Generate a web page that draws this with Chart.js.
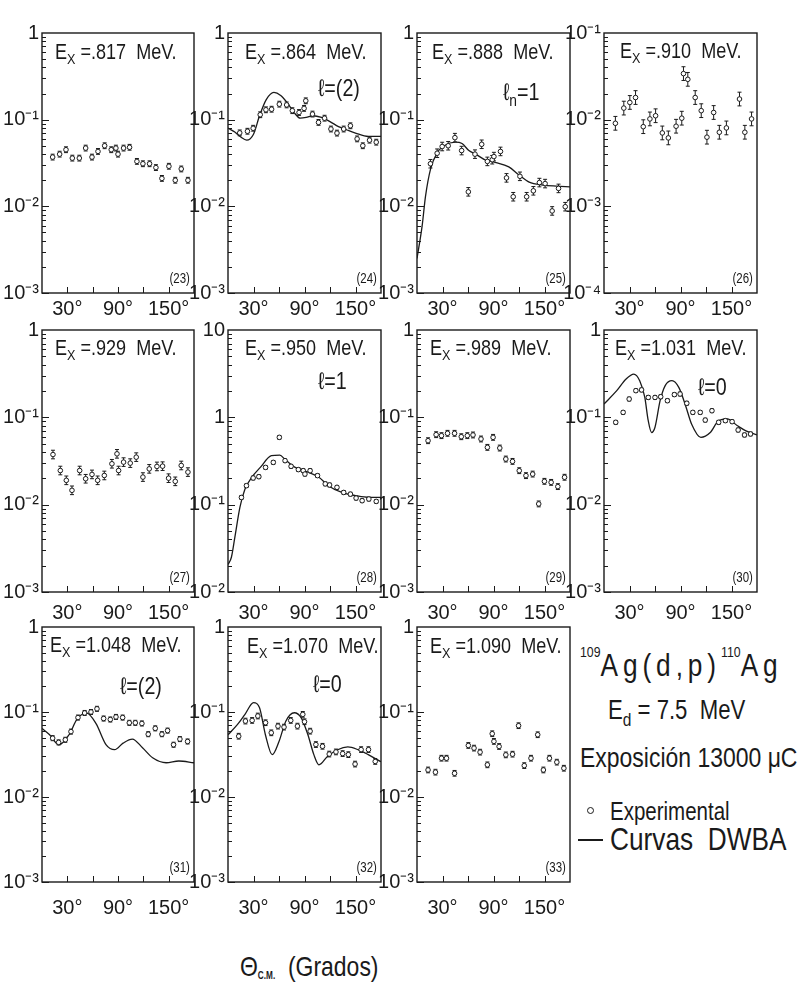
<!DOCTYPE html>
<html>
<head>
<meta charset="utf-8">
<title>109Ag(d,p)110Ag</title>
<script src="https://cdn.jsdelivr.net/npm/chart.js@4.4.1/dist/chart.umd.min.js"></script>
<style>
  body { margin: 0; background: #fff; }
  #sheet { position: relative; width: 797px; height: 998px; overflow: hidden; color: #1a1a1a;
           font-family: "Liberation Sans", Arial, sans-serif; }
  #sheet canvas { position: absolute; }
  .txt { position: absolute; white-space: pre; line-height: 1; transform: scaleX(0.82); transform-origin: left top; }
  .txt sub { font-size: 0.7em; vertical-align: -0.35em; line-height: 0; }
  .iso { font-size: 15px; position: relative; top: -19px; letter-spacing: 0; }
</style>
</head>
<body>
<div id="sheet">
  <div class="txt" style="left:580px;top:649px;font-size:32px;letter-spacing:6px"><span class="iso">109</span>Ag(d,p)<span class="iso">110</span>Ag</div>
  <div class="txt" style="left:608px;top:697px;font-size:27px">E<sub>d</sub> = 7.5  MeV</div>
  <div class="txt" style="left:580px;top:744px;font-size:28px">Exposición 13000 μC</div>
  <div style="position:absolute;left:587px;top:807px;width:5px;height:5px;border:1.5px solid #1a1a1a;border-radius:50%"></div>
  <div class="txt" style="left:610px;top:799px;font-size:25px">Experimental</div>
  <div style="position:absolute;left:578px;top:839px;width:25px;height:1.5px;background:#1a1a1a"></div>
  <div class="txt" style="left:610px;top:823px;font-size:32px">Curvas  DWBA</div>
  <div class="txt" style="left:240px;top:953px;font-size:28px">Θ<span style="font-size:10px;font-weight:bold;vertical-align:-3px">C.M.</span>  (Grados)</div>
</div>
<script>
'use strict';

// measured points, angle in degrees (c.m.) and cross section
var ang23 = [12.6, 20.9, 28.4, 35.9, 44.2, 51.7, 59.2, 66.3, 74.2, 82, 87.5, 90, 96.6, 103.7, 112.4, 119.5, 127.4, 134.9, 142, 150.3, 157.8, 164.9, 172.8];
var sig23 = [0.037, 0.040, 0.045, 0.036, 0.036, 0.047, 0.037, 0.043, 0.050, 0.045, 0.047, 0.040, 0.047, 0.048, 0.033, 0.031, 0.031, 0.028, 0.021, 0.029, 0.020, 0.027, 0.020];

var ang24 = [13.8, 22.9, 29.6, 37.9, 44.6, 51.3, 60.4, 69, 75.7, 83.6, 89.5, 91.5, 99.4, 106.5, 113.6, 121.1, 128.2, 136.1, 144, 151.9, 158.6, 166.5, 174.4];
var sig24 = [0.0704, 0.0735, 0.0796, 0.114, 0.130, 0.132, 0.151, 0.148, 0.127, 0.121, 0.135, 0.165, 0.116, 0.093, 0.104, 0.078, 0.070, 0.078, 0.085, 0.060, 0.050, 0.058, 0.055];

var ang25 = [15.8, 23.7, 29.6, 36.7, 44.6, 52.5, 60.4, 68.2, 76.1, 82.8, 88.5, 90.5, 98.2, 105.3, 113.2, 121.1, 129, 136.9, 144, 150.7, 159, 166.5, 174.4];
var sig25 = [0.031, 0.041, 0.049, 0.050, 0.062, 0.044, 0.0147, 0.040, 0.052, 0.033, 0.0345, 0.0375, 0.043, 0.0213, 0.0129, 0.0222, 0.0129, 0.0151, 0.0188, 0.0183, 0.00885, 0.0161, 0.0099];

var ang26 = [13.4, 23.3, 30.4, 37.1, 46.2, 54, 60.7, 68.6, 75.7, 84.8, 91.5, 93.5, 98.6, 107.3, 114.4, 121.1, 129, 135.7, 144, 159.4, 165.7, 173.6];
var sig26 = [0.00908, 0.0136, 0.0158, 0.018, 0.0083, 0.0102, 0.0111, 0.00703, 0.00616, 0.0084, 0.0104, 0.034, 0.0292, 0.018, 0.0127, 0.00628, 0.0121, 0.00716, 0.00803, 0.0173, 0.00716, 0.0102];

var ang27 = [13, 21.7, 28.8, 35.5, 44.6, 51.7, 59.2, 65.9, 73.8, 82.8, 88.8, 90.7, 96.6, 104.5, 111.6, 119.5, 127, 136.1, 142.8, 149.9, 157.8, 164.9, 172.8];
var sig27 = [0.0375, 0.0246, 0.019, 0.0146, 0.0246, 0.0198, 0.0222, 0.019, 0.0216, 0.0294, 0.0382, 0.0246, 0.0307, 0.0299, 0.035, 0.0207, 0.0257, 0.0274, 0.0276, 0.0201, 0.0185, 0.0281, 0.0236];

var ang28 = [15.8, 21.7, 29.6, 36.3, 44.2, 53.3, 60.4, 67.1, 74.2, 82.8, 88.5, 90.5, 96.6, 105.3, 114.4, 119.5, 128.2, 136.1, 144, 150.7, 157.8, 165.7, 174.4];
var sig28 = [0.121, 0.165, 0.202, 0.209, 0.267, 0.305, 0.59, 0.319, 0.275, 0.252, 0.245, 0.224, 0.245, 0.215, 0.173, 0.168, 0.158, 0.138, 0.132, 0.119, 0.111, 0.116, 0.109];

var ang29 = [13, 22.5, 28.8, 35.9, 44.2, 52.1, 59.2, 65.9, 75.3, 82.8, 89.5, 97.4, 104.5, 112.4, 120.3, 128.2, 136.1, 143.2, 149.9, 157.8, 165.7, 173.6];
var sig29 = [0.054, 0.0633, 0.0617, 0.0656, 0.0656, 0.060, 0.0617, 0.0628, 0.0565, 0.0453, 0.059, 0.0445, 0.0333, 0.0313, 0.0245, 0.0215, 0.0224, 0.0102, 0.0185, 0.018, 0.0161, 0.0206];

var ang30 = [13.8, 22.5, 29.6, 37.5, 44.2, 52.1, 60, 66.7, 74.6, 82.8, 89.5, 97.4, 104.5, 113.2, 119.1, 127, 134.9, 142.8, 150.7, 157.8, 165.3, 172.4];
var sig30 = [0.0877, 0.114, 0.162, 0.202, 0.206, 0.169, 0.169, 0.172, 0.155, 0.182, 0.185, 0.145, 0.114, 0.114, 0.093, 0.119, 0.0877, 0.0916, 0.0892, 0.0716, 0.0628, 0.0645];

var ang31 = [12.6, 19.7, 27.6, 34.3, 42.6, 50.5, 58, 65.1, 73, 80.9, 87.6, 95.5, 103.4, 110.5, 118.3, 125.8, 134.1, 142, 148.7, 155.8, 163.3, 172.4];
var sig31 = [0.0492, 0.0439, 0.0471, 0.0588, 0.086, 0.0974, 0.100, 0.109, 0.0838, 0.0816, 0.0875, 0.086, 0.0746, 0.0746, 0.0733, 0.0548, 0.0642, 0.0548, 0.0604, 0.0412, 0.048, 0.045];

var ang32 = [12.6, 20.5, 28.4, 35.1, 44.2, 50.9, 58.8, 65.9, 73.8, 81.7, 88, 90, 96.6, 103.4, 111.2, 119.1, 127, 134.9, 141.6, 149.5, 156.6, 165.3, 173.2];
var sig32 = [0.0519, 0.0782, 0.0796, 0.0897, 0.0748, 0.0569, 0.0682, 0.0664, 0.0796, 0.0682, 0.0938, 0.0768, 0.0595, 0.0414, 0.0395, 0.032, 0.0339, 0.0324, 0.0315, 0.0244, 0.0361, 0.0361, 0.0262];

var ang33 = [13, 21.7, 28.8, 34.7, 44.2, 60.4, 67.1, 74.2, 82.8, 88.5, 90.5, 96.6, 104.5, 112.4, 119.5, 126.2, 134.1, 142, 148.7, 155.8, 164.5, 172.8];
var sig33 = [0.0208, 0.0196, 0.0286, 0.0286, 0.019, 0.0404, 0.0376, 0.0337, 0.0239, 0.0555, 0.0451, 0.0393, 0.0313, 0.0319, 0.069, 0.0234, 0.0286, 0.054, 0.0208, 0.0286, 0.0257, 0.0218];

// DWBA curves
var dwAng24 = [0, 8, 15, 22, 30, 37, 45, 54, 62, 70, 78, 85, 92, 100, 110, 120, 130, 140, 150, 165, 180];
var dwSig24 = [0.080, 0.072, 0.063, 0.058, 0.068, 0.11, 0.17, 0.206, 0.19, 0.155, 0.12, 0.104, 0.106, 0.111, 0.106, 0.095, 0.083, 0.076, 0.070, 0.064, 0.064];

var dwAng25 = [0, 6, 10, 16, 24, 32, 45, 53, 61, 69, 81, 93, 108, 120, 132, 148, 164, 180];
var dwSig25 = [0.0025, 0.0059, 0.013, 0.027, 0.042, 0.050, 0.055, 0.053, 0.044, 0.040, 0.034, 0.032, 0.0285, 0.023, 0.019, 0.0176, 0.0171, 0.0168];

var dwAng28 = [0, 4, 8, 14, 20, 28, 38, 51, 61, 67, 79, 95, 107, 118, 134, 150, 166, 180];
var dwSig28 = [0.0206, 0.025, 0.042, 0.093, 0.151, 0.206, 0.267, 0.364, 0.37, 0.33, 0.267, 0.234, 0.206, 0.165, 0.138, 0.127, 0.121, 0.121];

var dwAng30 = [0, 15, 26, 35, 42, 48, 52, 56, 60, 66, 72, 80, 88, 96, 103, 114, 125, 135, 145, 157, 167, 180];
var dwSig30 = [0.142, 0.202, 0.275, 0.313, 0.263, 0.169, 0.092, 0.067, 0.077, 0.155, 0.231, 0.263, 0.22, 0.136, 0.084, 0.059, 0.067, 0.092, 0.096, 0.080, 0.070, 0.063];

var dwAng31 = [0, 9, 20, 32, 42, 53, 64, 76, 86, 96, 107, 119, 131, 147, 162, 180];
var dwSig31 = [0.064, 0.054, 0.041, 0.054, 0.084, 0.097, 0.073, 0.041, 0.036, 0.043, 0.048, 0.038, 0.029, 0.0253, 0.0265, 0.0253];

var dwAng32 = [0, 11, 20, 30, 37, 44, 52, 60, 68, 78, 86, 94, 101, 107, 117, 129, 141, 153, 165, 180];
var dwSig32 = [0.054, 0.071, 0.094, 0.129, 0.113, 0.054, 0.0315, 0.045, 0.078, 0.098, 0.086, 0.054, 0.0315, 0.0239, 0.030, 0.036, 0.0388, 0.036, 0.0315, 0.026];

// per-panel labels and axis ranges
var panelIds = [23, 24, 25, 26, 27, 28, 29, 30, 31, 32, 33];
var excitation = ['.817', '.864', '.888', '.910', '.929', '.950', '.989', '1.031', '1.048', '1.070', '1.090'];
var decadeLow = [-3, -3, -3, -4, -3, -2, -3, -3, -3, -3, -3];
var errFrac = [0.08, 0.08, 0.12, 0.2, 0.12, 0.05, 0.08, 0.05, 0.07, 0.08, 0.08];
var lValue = { 24: 'ℓ=(2)', 25: 'ℓ<sub>n</sub>=1', 28: 'ℓ=1', 30: 'ℓ=0', 31: 'ℓ=(2)', 32: 'ℓ=0' };
var xTickAngles = [30, 60, 90, 120, 150];
var xLabelAngles = [30, 90, 150];

var measured = [[ang23, sig23], [ang24, sig24], [ang25, sig25], [ang26, sig26], [ang27, sig27], [ang28, sig28],
                [ang29, sig29], [ang30, sig30], [ang31, sig31], [ang32, sig32], [ang33, sig33]];
var dwba = { 24: [dwAng24, dwSig24], 25: [dwAng25, dwSig25], 28: [dwAng28, dwSig28],
             30: [dwAng30, dwSig30], 31: [dwAng31, dwSig31], 32: [dwAng32, dwSig32] };

// page layout
var colLeft = [42, 228, 417, 604];
var colWidth = [152, 153, 153, 153];
var rowTop = [32, 329, 626];
var rowHeight = [261, 263, 256];
var rowLabelPad = [4, 9, 14];
var titlePos = [[55, 41], [245, 41], [432, 41], [620, 40], [55, 337], [245, 337], [430, 337], [615, 337], [50, 634], [247, 635], [430, 635]];
var lPos = { 24: [318, 76], 25: [503, 80], 28: [318, 369], 30: [698, 375], 31: [120, 674], 32: [313, 672] };

var FONT = '"Liberation Sans", Arial, sans-serif';
var INK = '#1a1a1a';

function expLabel(v) {
    var k = Math.round(Math.log10(v));
    if (k === 0) return '1';
    if (k === 1) return '10';
    var sup = { '1': '¹', '2': '²', '3': '³', '4': '⁴' };
    return '10⁻' + sup[String(-k)];
}

var panelFrame = {
    id: 'panelFrame',
    beforeDatasetsDraw: function(chart) {
        var ctx = chart.ctx, ys = chart.scales.y;
        chart.data.datasets.forEach(function(ds, i) {
            if (!ds.errFrac) return;
            var meta = chart.getDatasetMeta(i);
            ctx.save();
            ctx.strokeStyle = INK;
            ctx.lineWidth = 1;
            ctx.beginPath();
            meta.data.forEach(function(pt, j) {
                var v = ds.data[j].y;
                var top = ys.getPixelForValue(v * (1 + ds.errFrac));
                var bot = ys.getPixelForValue(v / (1 + ds.errFrac));
                ctx.moveTo(pt.x, top); ctx.lineTo(pt.x, bot);
                ctx.moveTo(pt.x - 2, top); ctx.lineTo(pt.x + 2, top);
                ctx.moveTo(pt.x - 2, bot); ctx.lineTo(pt.x + 2, bot);
            });
            ctx.stroke();
            ctx.restore();
        });
    },
    afterDraw: function(chart) {
        var ctx = chart.ctx, a = chart.chartArea, xs = chart.scales.x, ys = chart.scales.y;
        ctx.save();
        ctx.strokeStyle = INK;
        ctx.lineWidth = 1.4;
        ctx.strokeRect(a.left, a.top, a.right - a.left, a.bottom - a.top);
        ctx.lineWidth = 1;
        ctx.beginPath();
        xTickAngles.forEach(function(t) {
            var px = Math.round(xs.getPixelForValue(t)) + 0.5;
            ctx.moveTo(px, a.bottom); ctx.lineTo(px, a.bottom - 6);
        });
        var lo = Math.round(Math.log10(ys.min)), hi = Math.round(Math.log10(ys.max));
        for (var d = lo; d < hi; d++) {
            for (var m = 1; m < 10; m++) {
                var py = Math.round(ys.getPixelForValue(m * Math.pow(10, d))) + 0.5;
                ctx.moveTo(a.left, py); ctx.lineTo(a.left + (m === 1 ? 7 : 4), py);
            }
        }
        ctx.stroke();
        ctx.restore();
    }
};

var sheet = document.getElementById('sheet');

function addText(html, left, top, size) {
    var el = document.createElement('div');
    el.className = 'txt';
    el.style.left = left + 'px';
    el.style.top = top + 'px';
    el.style.fontSize = size + 'px';
    el.innerHTML = html;
    sheet.appendChild(el);
    return el;
}

panelIds.forEach(function(id, i) {
    var row = Math.floor(i / 4), col = i % 4;
    var L = colLeft[col], T = rowTop[row], W = colWidth[col], H = rowHeight[row];
    var lo = decadeLow[i];

    var canvas = document.createElement('canvas');
    canvas.width = W + 52;
    canvas.height = H + 48;
    canvas.style.left = (L - 40) + 'px';
    canvas.style.top = (T - 14) + 'px';
    sheet.appendChild(canvas);

    var pts = measured[i][0].map(function(a, j) { return { x: a, y: measured[i][1][j] }; });
    var datasets = [{
        data: pts,
        errFrac: errFrac[i],
        pointStyle: 'circle',
        pointRadius: 2.3,
        pointBorderWidth: 1,
        pointBorderColor: INK,
        pointBackgroundColor: '#fff',
        showLine: false
    }];
    if (dwba[id]) {
        datasets.push({
            data: dwba[id][0].map(function(a, j) { return { x: a, y: dwba[id][1][j] }; }),
            showLine: true,
            borderColor: INK,
            borderWidth: 1.3,
            pointRadius: 0,
            cubicInterpolationMode: 'monotone',
            fill: false
        });
    }

    new Chart(canvas.getContext('2d'), {
        type: 'scatter',
        data: { datasets: datasets },
        options: {
            responsive: false,
            animation: false,
            events: [],
            layout: { autoPadding: false, padding: { top: 14, right: 12, left: 0, bottom: 0 } },
            plugins: { legend: { display: false }, tooltip: { enabled: false } },
            scales: {
                x: {
                    type: 'linear',
                    min: 0,
                    max: 180,
                    afterBuildTicks: function(s) { s.ticks = xTickAngles.map(function(v) { return { value: v }; }); },
                    afterFit: function(s) { s.height = 34; },
                    grid: { display: false, drawTicks: false },
                    border: { display: false },
                    ticks: {
                        autoSkip: false,
                        maxRotation: 0,
                        padding: rowLabelPad[row],
                        color: INK,
                        font: { family: FONT, size: 20 },
                        callback: function(v) { return xLabelAngles.indexOf(v) >= 0 ? v + '°' : ''; }
                    }
                },
                y: {
                    type: 'logarithmic',
                    min: Math.pow(10, lo),
                    max: Math.pow(10, lo + 3),
                    afterBuildTicks: function(s) {
                        var t = [];
                        for (var k = lo; k <= lo + 3; k++) t.push({ value: Math.pow(10, k) });
                        s.ticks = t;
                    },
                    afterFit: function(s) { s.width = 40; },
                    grid: { display: false, drawTicks: false },
                    border: { display: false },
                    ticks: {
                        autoSkip: false,
                        padding: 3,
                        color: INK,
                        font: { family: FONT, size: 20 },
                        callback: function(v) { return expLabel(v); }
                    }
                }
            }
        },
        plugins: [panelFrame]
    });

    addText('E<sub>X</sub> =' + excitation[i] + '  MeV.', titlePos[i][0], titlePos[i][1], 22);
    if (lValue[id]) addText(lValue[id], lPos[id][0], lPos[id][1], 24);
    var num = addText('(' + id + ')', 0, T + H - 22, 14);
    num.style.left = 'auto';
    num.style.right = (797 - (L + W - 4)) + 'px';
    num.style.transformOrigin = 'right top';
});
</script>
</body>
</html>
